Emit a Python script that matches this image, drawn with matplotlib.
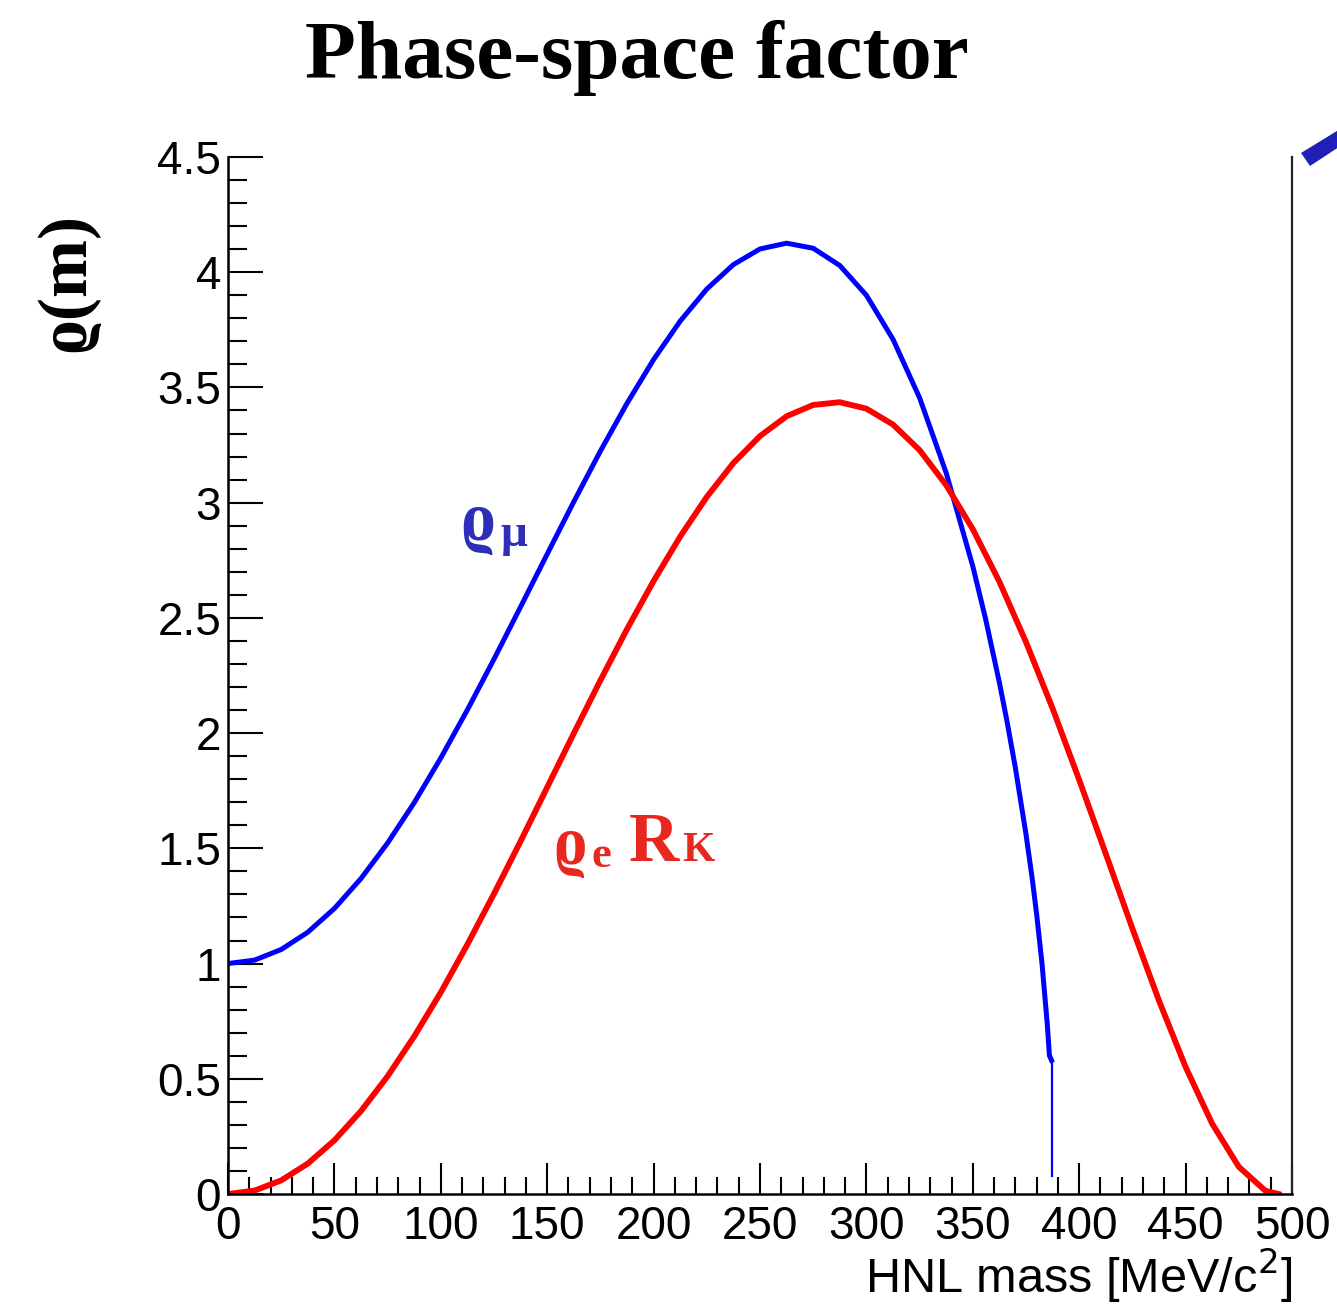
import matplotlib
matplotlib.use("Agg")
import matplotlib.pyplot as plt
from matplotlib.ticker import MultipleLocator, FormatStrFormatter
from matplotlib.patches import Polygon

plt.rcParams['font.family'] = ['Liberation Sans', 'DejaVu Sans']
SERIF = ['Liberation Serif', 'DejaVu Serif']

# --- data ---
mass_mu = [0, 12.5, 25, 37.5, 50, 62.5, 75, 87.5, 100, 112.5, 125, 137.5, 150,
           162.5, 175, 187.5, 200, 212.5, 225, 237.5, 250, 262.5, 275, 287.5,
           300, 312.5, 325, 337.5, 350, 356, 362.5, 366, 370, 375, 378, 380,
           382.5, 385, 386, 387, 387]
rho_mu = [1.000, 1.015, 1.061, 1.136, 1.239, 1.369, 1.523, 1.698, 1.892, 2.101,
          2.321, 2.548, 2.777, 3.004, 3.224, 3.431, 3.621, 3.788, 3.927, 4.033,
          4.101, 4.126, 4.104, 4.029, 3.900, 3.709, 3.455, 3.129, 2.724, 2.496,
          2.219, 2.055, 1.850, 1.561, 1.363, 1.214, 1.002, 0.737, 0.601, 0.58,
          0.08]

mass_e = [0, 12.5, 25, 37.5, 50, 62.5, 75, 87.5, 100, 112.5, 125, 137.5, 150,
          162.5, 175, 187.5, 200, 212.5, 225, 237.5, 250, 262.5, 275, 287.5,
          300, 312.5, 325, 337.5, 350, 362.5, 375, 387.5, 400, 412.5, 425,
          437.5, 450, 462.5, 475, 487.5, 493.7]
rho_e_rk = [0.0, 0.015, 0.059, 0.132, 0.233, 0.360, 0.511, 0.684, 0.875, 1.083,
            1.303, 1.531, 1.765, 1.999, 2.229, 2.451, 2.660, 2.853, 3.025, 3.172,
            3.289, 3.375, 3.424, 3.436, 3.408, 3.339, 3.228, 3.076, 2.885, 2.657,
            2.395, 2.107, 1.797, 1.476, 1.152, 0.839, 0.551, 0.305, 0.118, 0.014, 0.0]

W, H = 1337, 1306
fig = plt.figure(figsize=(W / 100, H / 100), dpi=100)
ax = fig.add_axes([228 / W, 1 - 1194 / H, (1292 - 228) / W, (1194 - 157) / H])

# muon curve: thick histogram body, thin last bin edge
ax.plot(mass_mu[:-1], rho_mu[:-1], color='#0000ff', lw=3.6, solid_joinstyle='round')
ax.plot(mass_mu[-2:], rho_mu[-2:], color='#0000ff', lw=1.6)
ax.plot(mass_e, rho_e_rk, color='#ff0000', lw=4.2, solid_joinstyle='round')

ax.set_xlim(0, 500)
ax.set_ylim(0, 4.5)

ax.xaxis.set_major_locator(MultipleLocator(50))
ax.xaxis.set_minor_locator(MultipleLocator(10))
ax.yaxis.set_major_locator(MultipleLocator(0.5))
ax.yaxis.set_minor_locator(MultipleLocator(0.1))
ax.yaxis.set_major_formatter(FormatStrFormatter('%g'))

ax.tick_params(axis='x', which='major', direction='in', length=22, width=1.5,
               labelsize=33, pad=8)
ax.tick_params(axis='x', which='minor', direction='in', length=12, width=1.5)
ax.tick_params(axis='y', which='major', direction='in', length=25, width=1.5,
               labelsize=33, pad=5)
ax.tick_params(axis='y', which='minor', direction='in', length=14, width=1.5)

ax.spines['top'].set_visible(False)
for s in ['left', 'bottom']:
    ax.spines[s].set_linewidth(1.8)
ax.spines['right'].set_linewidth(1.6)
ax.spines['right'].set_color('#222222')

# axis titles
fig.text(1292 / W, 1 - 1293 / H, 'HNL mass [MeV/c$^{2}$]', ha='right',
         va='baseline', fontsize=35)
fig.text(637 / W, 1 - 78 / H, 'Phase-space factor', ha='center', va='baseline',
         fontsize=60, fontweight='bold', family=SERIF)
fig.text(67 / W, 1 - 283 / H, 'ϱ(m)', ha='center', va='center', rotation=90,
         fontsize=50, fontweight='bold', family=SERIF)

# curve labels
blue_lbl = '#2e2eb8'
red_lbl = '#e8281e'
ax.text(109, 2.84, 'ϱ', color=blue_lbl, fontsize=50, fontweight='bold',
        family=SERIF, va='baseline')
ax.text(128, 2.81, 'μ', color=blue_lbl, fontsize=34, fontweight='bold',
        family=SERIF, va='baseline')
ax.text(153, 1.43, 'ϱ', color=red_lbl, fontsize=48, fontweight='bold',
        family=SERIF, va='baseline')
ax.text(171, 1.42, 'e', color=red_lbl, fontsize=32, fontweight='bold',
        family=SERIF, va='baseline')
ax.text(188.5, 1.444, 'R', color=red_lbl, fontsize=50, fontweight='bold',
        family=SERIF, va='baseline')
ax.text(213.5, 1.444, 'K', color=red_lbl, fontsize=30, fontweight='bold',
        family=SERIF, va='baseline')

# slide arrow fragment at top right
arrow = Polygon([(1301 / W, 1 - 153 / H), (1310 / W, 1 - 166 / H),
                 (1345 / W, 1 - 143 / H), (1345 / W, 1 - 126 / H)],
                closed=True, transform=fig.transFigure, color='#2020b8', lw=0)
fig.patches.append(arrow)

fig.savefig('out.png', dpi=100)
